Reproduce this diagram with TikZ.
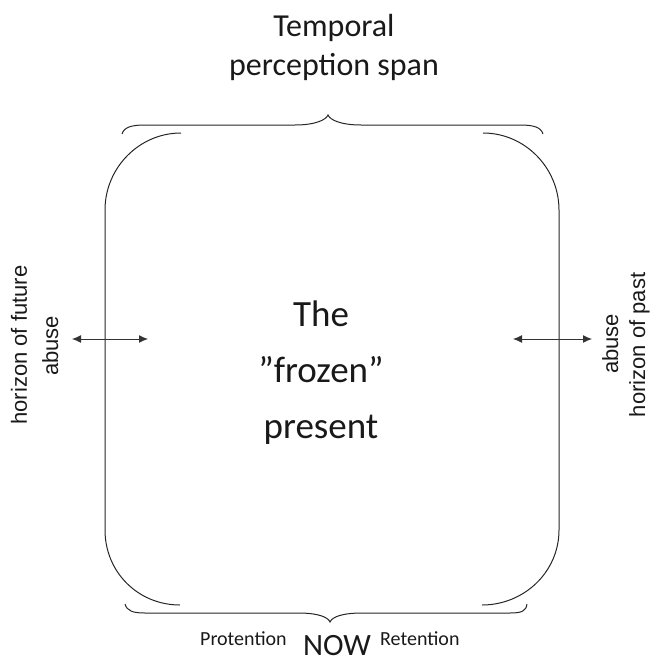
\documentclass[tikz,border=0pt]{standalone}
\usepackage{fontspec}
\setmainfont{Carlito}
\newfontfamily\arialf{Liberation Sans}
\usetikzlibrary{arrows.meta}
\tikzset{
  stroke/.style={draw=black!85, line width=1pt},
  sidelabel/.style={rotate=90, anchor=base, inner sep=0pt, font=\arialf\fontsize{22}{26}\selectfont, text=black!90},
  bigtext/.style={anchor=base, inner sep=0pt, font=\fontsize{32}{39}\selectfont, text=black!90},
  midtext/.style={anchor=base, inner sep=0pt, font=\fontsize{37}{45}\selectfont, text=black!90},
  smalltext/.style={anchor=base west, inner sep=0pt, font=\fontsize{20}{24}\selectfont, text=black!90},
  dbl/.style={draw=black!80, line width=1pt, {Latex[length=9pt,width=8pt]}-{Latex[length=9pt,width=8pt]}}
}
\begin{document}
\begin{tikzpicture}[x=1pt,y=-1pt]
\useasboundingbox (0,0) rectangle (649,661);
% title
\node[bigtext] (t1) at (334,37) {Temporal};
\node[bigtext] (t2) at (334,76) {perception span};
% top brace
\draw[stroke] (122,134) .. controls (124,127) and (132,125) .. (145,125) -- (295,125)
  .. controls (315,125) and (326,120) .. (328,115)
  .. controls (330,120) and (341,125) .. (361,125) -- (520,125)
  .. controls (533,125) and (541,127) .. (543,134);
% box sides
\draw[stroke] (181,133) .. controls (139,133) and (105,168) .. (105,210) -- (105,530)
  .. controls (105,572) and (138,605) .. (180,605);
\draw[stroke] (483,133) .. controls (525,133) and (559,168) .. (559,210) -- (559,530)
  .. controls (559,572) and (524,605) .. (482,605);
% bottom brace
\draw[stroke] (125,604) .. controls (127,611) and (133,613) .. (145,613) -- (298,613)
  .. controls (318,613) and (328,617) .. (330,622)
  .. controls (332,617) and (342,613) .. (362,613) -- (510,613)
  .. controls (522,613) and (526,611) .. (527,604);
% centre text
\node[midtext] (c1) at (321,326) {The};
\node[midtext] (c2) at (321,382) {”frozen”};
\node[midtext] (c3) at (321,438) {present};
% bottom labels
\node[smalltext] (pro) at (200,645) {Protention};
\node[anchor=base, inner sep=0pt, font=\fontsize{31}{36}\selectfont, text=black!90] (now) at (337,655) {NOW};
\node[smalltext] (ret) at (380,645) {Retention};
% side labels
\node[sidelabel] (lf1) at (27,345) {horizon of future};
\node[sidelabel] (lf2) at (58,346) {abuse};
\node[sidelabel] (rp1) at (618,344) {abuse};
\node[sidelabel] (rp2) at (645,345) {horizon of past};
% arrows
\coordinate (la) at (72,339);
\coordinate (lb) at (148,339);
\coordinate (ra) at (513,339);
\coordinate (rb) at (592,339);
\draw[dbl] (la) -- (lb);
\draw[dbl] (ra) -- (rb);
\end{tikzpicture}
\end{document}
